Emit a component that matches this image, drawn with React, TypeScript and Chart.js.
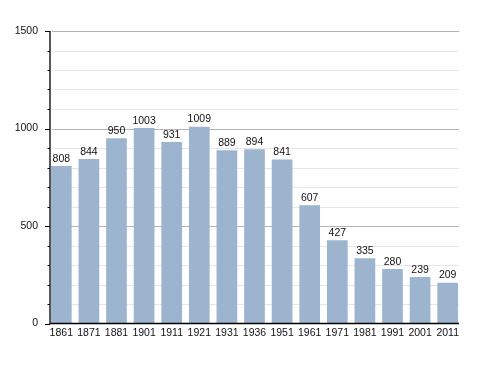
import React, { useEffect, useRef } from "react";
import { Chart, registerables } from "chart.js";

Chart.register(...registerables);

const years = ["1861", "1871", "1881", "1901", "1911", "1921", "1931", "1936", "1951", "1961", "1971", "1981", "1991", "2001", "2011"];
const population = [808, 844, 950, 1003, 931, 1009, 889, 894, 841, 607, 427, 335, 280, 239, 209];
const yTickValues = [0, 500, 1000, 1500];

const FONT = "'Liberation Sans', Arial, sans-serif";
const FONT_SIZE = 10.5;

const decorPlugin = {
  id: "decor",
  beforeDatasetsDraw(chart: any) {
    const ctx = chart.ctx;
    const y = chart.scales.y;
    const axisX = 50;
    const rightX = 459;
    ctx.save();
    for (let v = 100; v <= 1500; v += 100) {
      const py = Math.round(y.getPixelForValue(v)) + 0.5;
      ctx.strokeStyle = v % 500 === 0 ? "#b4b4b4" : "#e6e6e6";
      ctx.lineWidth = 1;
      ctx.beginPath();
      ctx.moveTo(axisX + 2, py);
      ctx.lineTo(rightX, py);
      ctx.stroke();
    }
    ctx.restore();
  },
  afterDatasetsDraw(chart: any) {
    const ctx = chart.ctx;
    const y = chart.scales.y;
    const axisX = 50;
    const rightX = 459;
    ctx.save();
    ctx.strokeStyle = "#000";
    ctx.lineWidth = 1.3;
    const top = y.getPixelForValue(1500);
    const bottom = y.getPixelForValue(0);
    ctx.beginPath();
    ctx.moveTo(axisX, top);
    ctx.lineTo(axisX, bottom);
    ctx.lineTo(rightX, bottom);
    ctx.stroke();
    ctx.lineWidth = 1;
    for (let v = 0; v <= 1500; v += 100) {
      const py = Math.round(y.getPixelForValue(v)) + 0.5;
      const len = v % 500 === 0 ? 5 : 2.5;
      ctx.beginPath();
      ctx.moveTo(axisX - len, py);
      ctx.lineTo(axisX, py);
      ctx.stroke();
    }
    const meta = chart.getDatasetMeta(0);
    ctx.fillStyle = "#111";
    ctx.font = `${FONT_SIZE}px ${FONT}`;
    ctx.textAlign = "center";
    ctx.textBaseline = "bottom";
    meta.data.forEach((bar: any, i: number) => {
      ctx.fillText(String(population[i]), bar.x, bar.y - 2);
    });
    ctx.restore();
  },
};

export default function App() {
  const canvasRef = useRef<HTMLCanvasElement | null>(null);

  useEffect(() => {
    document.body.style.margin = "0";
    const canvas = canvasRef.current;
    if (!canvas) return;
    const chart = new Chart(canvas, {
      type: "bar",
      data: {
        labels: years,
        datasets: [
          {
            data: population,
            backgroundColor: "#9db4cf",
            borderWidth: 0,
            barPercentage: 0.75,
            categoryPercentage: 1,
          },
        ],
      },
      options: {
        responsive: false,
        animation: false,
        maintainAspectRatio: false,
        layout: { padding: { top: 31, right: 26.5, left: 0, bottom: 0 } },
        plugins: {
          legend: { display: false },
          tooltip: { enabled: false },
        },
        scales: {
          x: {
            grid: { display: false, drawTicks: false },
            border: { display: false },
            ticks: {
              color: "#111",
              font: { family: FONT, size: FONT_SIZE },
              padding: 3,
              maxRotation: 0,
              autoSkip: false,
            },
            afterFit(scale: any) {
              scale.height = 49.5;
            },
          },
          y: {
            min: 0,
            max: 1500,
            grid: { display: false, drawTicks: false },
            border: { display: false },
            afterBuildTicks(scale: any) {
              scale.ticks = yTickValues.map((v) => ({ value: v }));
            },
            ticks: {
              color: "#111",
              font: { family: FONT, size: FONT_SIZE },
              padding: 9.5,
              callback: (value: any) => String(value),
            },
            afterFit(scale: any) {
              scale.width = 47.5;
            },
          },
        },
      },
      plugins: [decorPlugin],
    });
    return () => chart.destroy();
  }, []);

  return (
    <div style={{ position: "absolute", left: 0, top: 0, width: 488, height: 373, background: "#fff" }}>
      <canvas ref={canvasRef} width={488} height={373} style={{ width: 488, height: 373 }} />
    </div>
  );
}
